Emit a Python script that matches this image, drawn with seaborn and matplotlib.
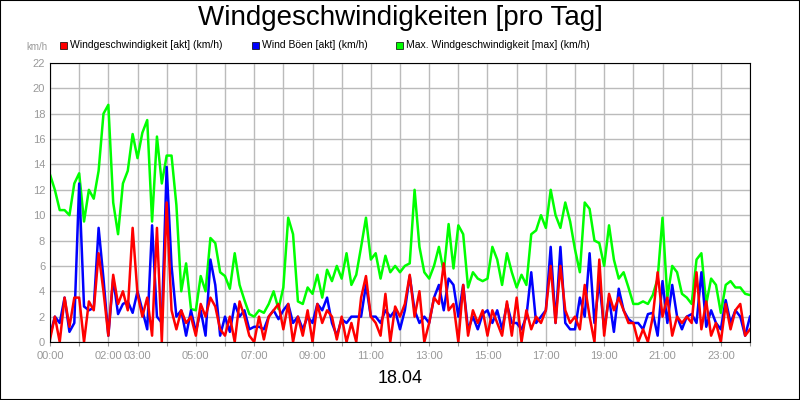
import numpy as np
import pandas as pd
import seaborn as sns
import matplotlib.pyplot as plt
from matplotlib.patches import Rectangle

plt.rcParams["font.family"] = "Liberation Sans"

# 10-minute samples, 00:00 .. 24:00
wind_max = [13.2, 12.0, 10.4, 10.4, 10.0, 12.5, 13.3, 9.5, 12.0, 11.3, 13.5, 18.0,
            18.7, 11.0, 8.5, 12.5, 13.5, 16.4, 14.5, 16.5, 17.5, 9.5, 16.2, 12.5,
            14.7, 14.7, 10.8, 4.0, 6.2, 2.6, 2.5, 5.2, 4.0, 8.2, 7.8, 5.5,
            5.2, 4.2, 7.0, 4.5, 3.3, 2.2, 2.0, 2.5, 2.3, 3.0, 4.0, 2.6,
            4.3, 9.8, 8.5, 3.2, 3.0, 4.3, 3.8, 5.3, 3.5, 5.7, 4.8, 6.0,
            5.0, 7.0, 4.5, 5.3, 7.5, 9.8, 6.5, 7.0, 5.0, 6.8, 5.5, 6.0,
            5.5, 6.0, 6.2, 12.0, 7.5, 5.5, 5.0, 6.0, 7.5, 5.5, 9.3, 5.8,
            9.2, 8.5, 4.3, 5.5, 5.0, 4.8, 5.0, 7.5, 6.5, 4.5, 7.0, 5.5,
            4.3, 5.3, 4.5, 8.5, 8.8, 10.0, 9.0, 12.0, 10.0, 9.0, 11.0, 9.5,
            7.3, 5.5, 11.0, 10.5, 8.0, 7.8, 6.0, 9.2, 6.5, 5.0, 5.5, 4.3,
            3.0, 3.0, 3.2, 3.0, 3.7, 5.0, 9.8, 3.5, 6.0, 5.5, 3.8, 3.5,
            3.0, 6.5, 7.0, 3.0, 5.0, 4.5, 2.3, 4.5, 4.8, 4.3, 4.3, 3.8, 3.7]

wind_gust = [0.5, 2.0, 1.5, 3.5, 0.8, 1.5, 12.5, 2.8, 2.5, 2.7, 9.0, 5.0,
             0.5, 5.0, 2.2, 3.0, 3.2, 2.3, 4.0, 2.5, 1.0, 9.2, 2.0, 1.5,
             13.8, 6.0, 2.0, 2.5, 0.5, 2.5, 0.8, 2.5, 0.5, 6.5, 4.5, 0.5,
             2.0, 0.8, 3.0, 2.0, 2.5, 1.0, 1.2, 1.2, 1.0, 2.0, 2.5, 1.8,
             2.5, 3.0, 1.5, 2.0, 1.0, 2.0, 1.5, 3.0, 2.5, 3.5, 1.5, 0.5,
             1.8, 1.5, 2.0, 2.0, 2.0, 4.5, 2.0, 2.0, 1.5, 2.5, 2.0, 2.5,
             1.0, 2.5, 5.2, 2.5, 1.5, 2.0, 1.5, 3.5, 4.5, 2.5, 5.0, 4.5,
             2.0, 4.5, 1.0, 2.0, 1.0, 2.2, 2.5, 1.5, 2.5, 1.0, 3.0, 1.5,
             1.5, 1.0, 2.0, 5.5, 1.5, 2.0, 2.5, 7.5, 1.5, 7.5, 1.5, 1.0,
             1.0, 3.5, 2.0, 7.0, 1.5, 4.8, 1.0, 3.5, 0.8, 4.2, 2.5, 1.8,
             1.5, 1.5, 1.0, 2.2, 2.3, 0.5, 4.8, 1.5, 4.5, 2.0, 1.0, 2.0,
             2.2, 1.5, 5.5, 1.2, 2.5, 1.5, 1.0, 3.3, 1.5, 2.5, 2.0, 0.5, 2.0]

wind_now = [0.2, 2.0, 0.0, 3.5, 1.2, 3.5, 3.5, 0.0, 3.2, 2.5, 7.0, 4.0,
            0.5, 5.3, 3.0, 4.0, 2.5, 9.0, 3.8, 2.0, 3.5, 0.5, 9.0, 0.0,
            11.0, 2.5, 1.0, 2.5, 1.5, 2.0, 0.5, 3.0, 2.0, 3.5, 2.8, 1.0,
            0.5, 2.0, 0.0, 3.2, 2.0, 0.5, 0.0, 2.0, 0.2, 2.0, 2.5, 3.0,
            1.0, 3.0, 0.0, 2.0, 0.5, 2.5, 0.0, 3.0, 1.5, 2.5, 2.0, 0.2,
            2.0, 0.0, 1.5, 0.0, 3.5, 5.2, 2.0, 1.5, 0.5, 3.8, 0.0, 2.8,
            2.0, 3.0, 5.3, 2.0, 4.0, 0.0, 1.5, 3.5, 3.0, 6.2, 2.5, 3.0,
            0.0, 4.5, 0.5, 2.5, 1.5, 2.5, 0.5, 2.5, 1.5, 0.5, 3.2, 0.5,
            3.5, 0.0, 2.5, 1.0, 2.0, 1.5, 2.5, 6.0, 1.5, 6.0, 2.5, 1.5,
            2.0, 1.0, 4.5, 2.0, 0.0, 6.5, 0.5, 3.8, 2.5, 3.5, 2.5, 1.5,
            1.5, 0.0, 1.0, 0.0, 2.0, 5.5, 2.0, 3.5, 0.5, 2.0, 1.5, 2.0,
            1.5, 5.5, 1.0, 3.2, 0.5, 1.5, 0.0, 3.0, 1.0, 2.5, 3.0, 0.5, 1.0]

labels = ["Max. Windgeschwindigkeit [max] (km/h)",
          "Wind Böen [akt] (km/h)",
          "Windgeschwindigkeit [akt] (km/h)"]
colors = ["#00ff00", "#0000ff", "#ff0000"]
tick_hours = [0, 2, 3, 5, 7, 9, 11, 13, 15, 17, 19, 21, 23]

hours = np.arange(len(wind_max)) / 6.0
df = pd.concat([
    pd.DataFrame({"h": hours, "v": vals, "s": lab})
    for vals, lab in zip([wind_max, wind_gust, wind_now], labels)
])

fig = plt.figure(figsize=(8, 4), dpi=100)
ax = fig.add_axes([0.0625, 0.145, 0.875, 0.6975])
sns.lineplot(data=df, x="h", y="v", hue="s", hue_order=labels,
             palette=colors, linewidth=1.8, ax=ax, legend=False)

ax.set_xlim(0, 24)
ax.set_ylim(0, 22)
ax.set_yticks(range(0, 23, 2))
ax.set_xticks(range(0, 25))
ax.set_xticklabels([f"{h:02d}:00" if h in tick_hours else "" for h in range(25)])
ax.tick_params(colors="#999999", labelsize=8, length=3)
ax.tick_params(axis="y", length=0)
ax.grid(True, color="#bbbbbb", linewidth=1)
ax.set_axisbelow(True)
for sp in ax.spines.values():
    sp.set_color("black")
ax.set_xlabel("")
ax.set_ylabel("")

fig.text(0.5, 0.955, "Windgeschwindigkeiten [pro Tag]", ha="center", va="center", fontsize=20)
fig.text(0.5, 0.053, "18.04", ha="center", va="center", fontsize=13)
fig.text(0.046, 0.882, "km/h", ha="center", va="center", fontsize=7, color="#999999")

# legend row
legend_x = [0.075, 0.315, 0.495]
for x, lab, c in zip(legend_x, labels[::-1], colors[::-1]):
    fig.patches.append(Rectangle((x, 0.878), 0.009, 0.018, transform=fig.transFigure,
                                 facecolor=c, edgecolor="black", linewidth=0.5))
    fig.text(x + 0.013, 0.887, lab, va="center", fontsize=7.5)

fig.patches.append(Rectangle((0, 0), 1, 1, transform=fig.transFigure, fill=False,
                             edgecolor="black", linewidth=1.5))
fig.savefig("out.png", dpi=100)
